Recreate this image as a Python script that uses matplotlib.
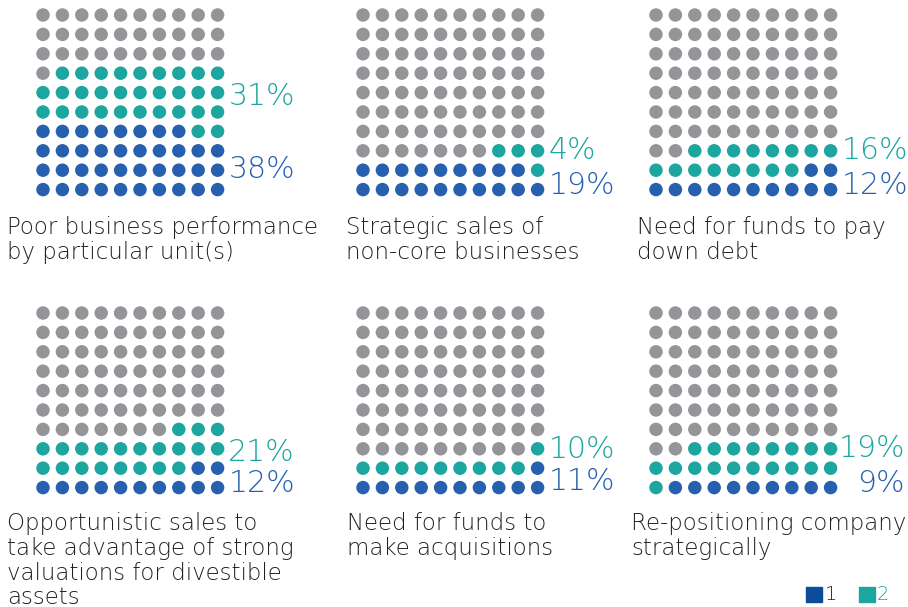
import numpy as np
import matplotlib.pyplot as plt
from matplotlib.patches import Rectangle

# Data: share of respondents per reason (legend "1" = blue, "2" = teal)
categories = [
    "Poor business performance\nby particular unit(s)",
    "Strategic sales of\nnon-core businesses",
    "Need for funds to pay\ndown debt",
    "Opportunistic sales to\ntake advantage of strong\nvaluations for divestible\nassets",
    "Need for funds to\nmake acquisitions",
    "Re-positioning company\nstrategically",
]
share_1 = [38, 19, 12, 12, 11, 9]
share_2 = [31, 4, 16, 21, 10, 19]
legend_labels = ["1", "2"]

# Colours
GRAY = "#939598"
TEAL = "#1da59f"
BLUE = "#2660ae"
LEGEND_BLUE = "#0b4c9b"
TEXT = "#231f20"

W, H = 908, 607
SP = 19.4  # dot spacing in pixels

# Layout per panel (pixel centre of top-left dot), fill side, label rows
origins = [(43, 15), (363, 15), (656, 15), (43, 313), (363, 313), (656, 313)]
blue_from_left = [True, True, False, False, False, False]
teal_label_row = [4.2, 7.0, 7.0, 7.2, 7.05, 7.0]
blue_label_row = [7.95, 8.8, 8.8, 8.8, 8.7, 8.8]
label_right = [False, False, False, False, False, True]
text_pos = [(7, 216), (346, 216), (637, 216), (7, 512), (347, 512), (631, 512)]

plt.rcParams['font.family'] = ['DejaVu Sans']

fig = plt.figure(figsize=(W / 100, H / 100), dpi=100)

for i, cat in enumerate(categories):
    x0, y0 = origins[i]
    ax = fig.add_axes([(x0 - SP / 2) / W, 1 - (y0 + 9.5 * SP) / H,
                       10 * SP / W, 10 * SP / H])
    ax.set_xlim(-0.5, 9.5)
    ax.set_ylim(9.5, -0.5)
    ax.axis('off')

    n1, n2 = share_1[i], share_2[i]
    n_gray = 100 - n1 - n2
    grid = np.full((10, 10), 'teal', dtype=object)
    # gray fills from the top-left, reading order
    for k in range(n_gray):
        grid[k // 10, k % 10] = 'gray'
    # blue fills from the bottom row upwards
    for k in range(n1):
        r = 9 - k // 10
        c = k % 10 if blue_from_left[i] else 9 - k % 10
        grid[r, c] = 'blue'

    cmap = {'gray': GRAY, 'teal': TEAL, 'blue': BLUE}
    rows, cols = np.mgrid[0:10, 0:10]
    colors = [cmap[g] for g in grid.ravel()]
    ax.scatter(cols.ravel(), rows.ravel(), c=colors, s=94, linewidths=0)

    if label_right[i]:
        lx, ha = (905 - x0) / SP, 'right'
    else:
        lx, ha = 9.55, 'left'
    ax.text(lx, teal_label_row[i], f"{n2}%", color=TEAL, fontsize=21.5,
            fontweight='light', ha=ha, va='center', clip_on=False)
    ax.text(lx, blue_label_row[i], f"{n1}%", color=BLUE, fontsize=21.5,
            fontweight='light', ha=ha, va='center', clip_on=False)

    tx, ty = text_pos[i]
    fig.text(tx / W, 1 - ty / H, cat, color=TEXT, fontsize=16.5,
             fontweight='light', ha='left', va='top', linespacing=1.1)

# Legend
fig.patches.append(Rectangle((806 / W, 1 - 602 / H), 16 / W, 15 / H,
                             transform=fig.transFigure, color=LEGEND_BLUE))
fig.text(825 / W, 1 - 595 / H, legend_labels[0], color=TEXT, fontsize=14,
         fontweight='light', va='center', ha='left')
fig.patches.append(Rectangle((859 / W, 1 - 602 / H), 16 / W, 15 / H,
                             transform=fig.transFigure, color=TEAL))
fig.text(877 / W, 1 - 595 / H, legend_labels[1], color=TEAL, fontsize=14,
         fontweight='light', va='center', ha='left')

fig.savefig("out.png", dpi=100)
